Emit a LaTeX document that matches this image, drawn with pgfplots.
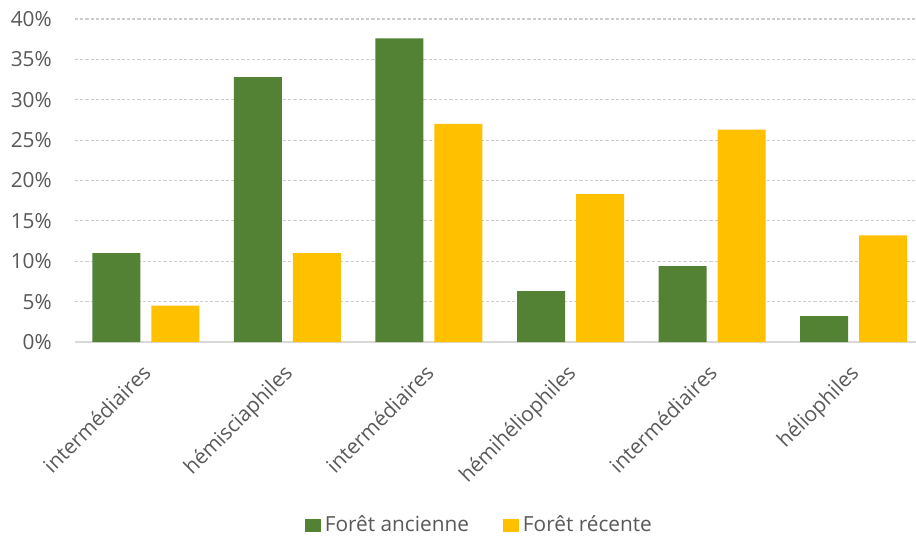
\documentclass[border=0pt]{standalone}
\usepackage{pgfplots}
\pgfplotsset{compat=1.18}
\usepackage{fontspec}
\setmainfont{Open Sans}
\definecolor{cgreen}{HTML}{548235}
\definecolor{cyellow}{HTML}{FFC000}
\definecolor{ctext}{HTML}{595959}
\definecolor{cgrid}{HTML}{D9D9D9}
\begin{document}
\begin{tikzpicture}
\fontsize{10.4}{12.5}\selectfont
\path[use as bounding box] (-37.5pt,-100pt) rectangle (420.5pt,171pt);
\begin{axis}[
  at={(0,0)}, anchor=south west,
  scale only axis, width=420.5pt, height=161.5pt,
  xmin=-0.5, xmax=5.44, ymin=0, ymax=40,
  ytick={0,5,...,40},
  yticklabel={\pgfmathprintnumber{\tick}\%},
  /pgf/number format/assume math mode=true,
  xtick={0,...,5},
  xticklabels={intermédiaires, hémisciaphiles, intermédiaires, hémihéliophiles, intermédiaires, héliophiles},
  xticklabel style={yshift=-5.5pt, xshift=-2.5pt, rotate=45, anchor=north east},
  yticklabel style={xshift=-8pt},
  tick label style={text=ctext, font=\fontsize{10.4}{12.5}\selectfont},
  major tick length=0pt,
  axis x line*=bottom, axis y line*=left,
  y axis line style={draw=none},
  x axis line style={draw=cgrid, line width=1pt, -},
  ymajorgrids,
  grid style={draw=cgrid!85!gray, line width=0.55pt, dash pattern=on 1.6pt off 1pt},
  legend style={at={(0.482,-0.567)}, anchor=center, draw=none, fill=none,
    legend columns=2, text=ctext, font=\fontsize{10.4}{12.5}\selectfont,
    /tikz/every even column/.append style={column sep=15pt}},
  legend image code/.code={\fill[#1] (0pt,-3.3pt) rectangle (8pt,3.3pt);},
]
\addplot[ybar, bar width=0.339, bar shift=-0.2083, fill=cgreen, draw=none]
  coordinates {(0,11.0) (1,32.8) (2,37.6) (3,6.3) (4,9.4) (5,3.2)};
\addlegendentry{Forêt ancienne}
\addplot[ybar, bar width=0.339, bar shift=0.2083, fill=cyellow, draw=none]
  coordinates {(0,4.5) (1,11.0) (2,27.0) (3,18.3) (4,26.3) (5,13.2)};
\addlegendentry{Forêt récente}
\end{axis}
\end{tikzpicture}
\end{document}
